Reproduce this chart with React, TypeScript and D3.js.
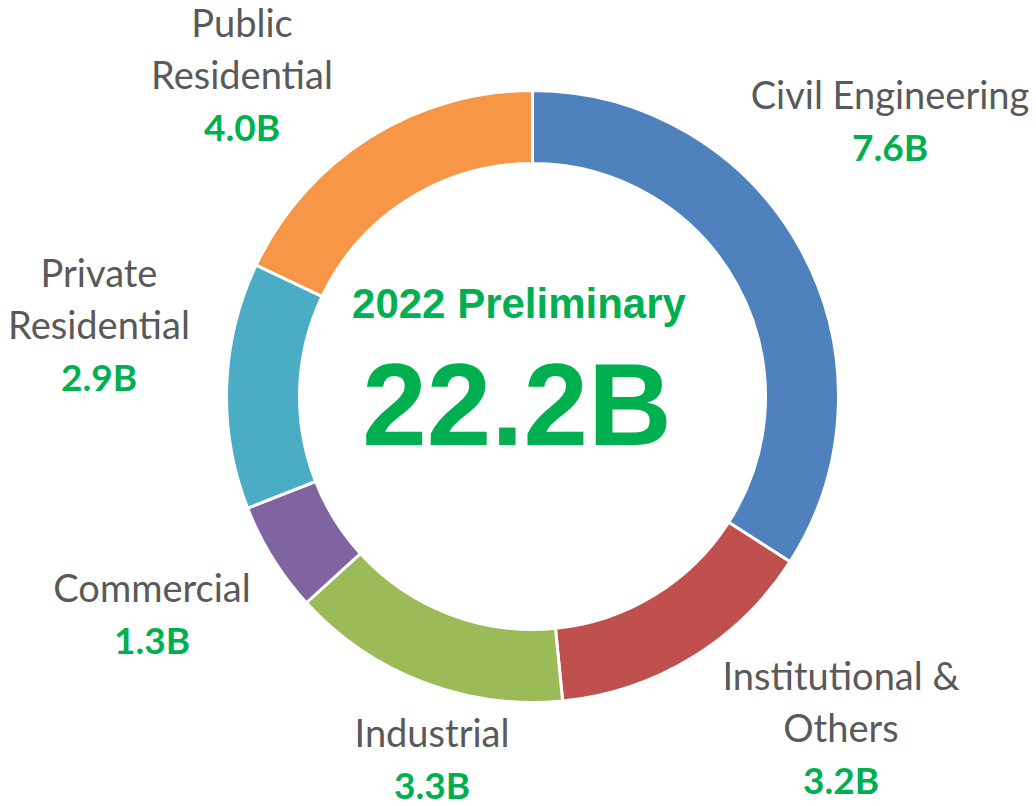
import React from "react";
import * as d3 from "d3";

const CATEGORIES = [
  "Civil Engineering",
  "Institutional & Others",
  "Industrial",
  "Commercial",
  "Private Residential",
  "Public Residential",
];
const VALUES = [7.6, 3.2, 3.3, 1.3, 2.9, 4.0];
const VALUE_LABELS = ["7.6B", "3.2B", "3.3B", "1.3B", "2.9B", "4.0B"];
const LABEL_LINES = [
  ["Civil Engineering"],
  ["Institutional &", "Others"],
  ["Industrial"],
  ["Commercial"],
  ["Private", "Residential"],
  ["Public", "Residential"],
];
const TITLE = "2022 Preliminary";
const TOTAL_LABEL = "22.2B";

const COLORS = ["#4F81BD", "#C0504D", "#9BBB59", "#8064A2", "#4BACC6", "#F79646"];

const WIDTH = 1036;
const HEIGHT = 806;
const CX = 532.5;
const CY = 396.5;
const OUTER = 306;
const INNER = 233;
const LINE_H = 52;

// label anchor (center x, baseline of first line), placed by hand like the source
const LABEL_POS: [number, number][] = [
  [890, 109],
  [841, 690],
  [432, 747],
  [152, 602],
  [99, 287],
  [242, 37],
];

const GRAY = "#595959";
const GREEN = "#00B050";

export default function App() {
  const pie = d3
    .pie<number>()
    .sort(null)
    .value((d) => d)
    .startAngle(0)
    .endAngle(2 * Math.PI);
  const arcs = pie(VALUES);
  const arc = d3.arc<d3.PieArcDatum<number>>().innerRadius(INNER).outerRadius(OUTER);

  return (
    <svg
      width={WIDTH}
      height={HEIGHT}
      style={{ position: "absolute", left: 0, top: 0, background: "#fff" }}
    >
      <g transform={`translate(${CX},${CY})`}>
        {arcs.map((a, i) => (
          <path key={CATEGORIES[i]} d={arc(a) || ""} fill={COLORS[i]} stroke="#fff" strokeWidth={3} />
        ))}
      </g>
      {CATEGORIES.map((c, i) => {
        const [x, y] = LABEL_POS[i];
        const lines = LABEL_LINES[i];
        return (
          <g key={c}>
            {lines.map((l, j) => (
              <text
                key={j}
                x={x}
                y={y + j * LINE_H}
                textAnchor="middle"
                fontFamily="Lato, 'Open Sans', sans-serif"
                fontSize={38}
                fill={GRAY}
              >
                {l}
              </text>
            ))}
            <text
              x={x}
              y={y + lines.length * LINE_H}
              textAnchor="middle"
              fontFamily="Lato, 'Open Sans', sans-serif"
              fontWeight="bold"
              fontSize={37}
              fill={GREEN}
            >
              {VALUE_LABELS[i]}
            </text>
          </g>
        );
      })}
      <text
        x={519}
        y={318}
        textAnchor="middle"
        fontFamily="'Liberation Sans', Arial, sans-serif"
        fontWeight="bold"
        fontSize={42}
        fill={GREEN}
      >
        {TITLE}
      </text>
      <text
        x={517}
        y={445}
        textAnchor="middle"
        fontFamily="'Liberation Sans', Arial, sans-serif"
        fontWeight="bold"
        fontSize={116}
        fill={GREEN}
      >
        {TOTAL_LABEL}
      </text>
    </svg>
  );
}
